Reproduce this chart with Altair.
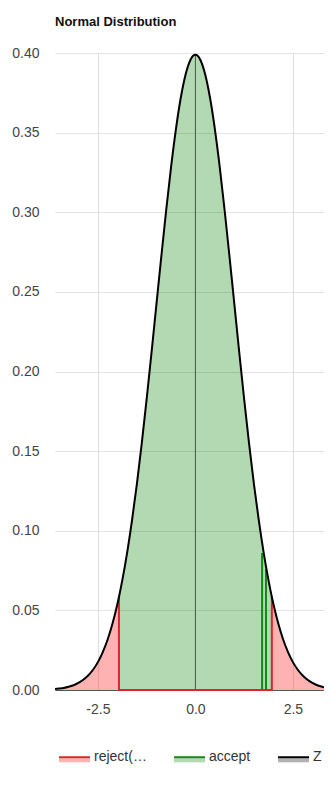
import altair as alt
import pandas as pd

# ---- data ----
names = ["reject(α=0.05)", "accept", "Z"]
half_x = [0.0, 0.125, 0.25, 0.375, 0.5, 0.625, 0.75, 0.875, 1.0, 1.125, 1.25, 1.375,
          1.5, 1.625, 1.75, 1.875, 2.0, 2.125, 2.25, 2.375, 2.5, 2.625, 2.75, 2.875,
          3.0, 3.125, 3.25, 3.375, 3.5, 3.625, 3.75]
half_y = [0.3989, 0.3958, 0.3867, 0.3719, 0.3521, 0.3282, 0.3011, 0.2720, 0.2420, 0.2119,
          0.1826, 0.1550, 0.1295, 0.1066, 0.0863, 0.0688, 0.0540, 0.0417, 0.0317, 0.0238,
          0.0175, 0.0127, 0.0091, 0.0064, 0.0044, 0.0030, 0.0020, 0.0013, 0.0009, 0.0006,
          0.0004]
crit = 1.96
crit_y = 0.0584
stat_x = [1.71, 1.81]
stat_top = [0.086, 0.076]
peak = 0.3989
x_ticks = [-2.5, 0.0, 2.5]
y_ticks = [i * 0.025 for i in range(17)]

# ---- tables ----
xs = [-v for v in half_x[:0:-1]] + half_x
ys = half_y[:0:-1] + half_y
pts = sorted(list(zip(xs, ys)) + [(-crit, crit_y), (crit, crit_y)])
curve = pd.DataFrame({"x": [p[0] for p in pts], "y": [p[1] for p in pts], "s": names[2]})

rows = []
for x, y in pts:
    if x <= -crit:
        rows.append((x, y, "left", names[0]))
    if -crit <= x <= crit:
        rows.append((x, y, "mid", names[1]))
    if x >= crit:
        rows.append((x, y, "right", names[0]))
areas = pd.DataFrame(rows, columns=["x", "y", "part", "f"])

outline = pd.DataFrame({"x": [-crit, -crit, crit, crit],
                        "y": [crit_y, 0, 0, crit_y],
                        "o": [0, 1, 2, 3]})
stats = pd.DataFrame({"x": stat_x, "y0": [0, 0], "y1": stat_top})
zero = pd.DataFrame({"x": [0.0], "y0": [0.0], "y1": [peak]})

FONT = "Liberation Sans"
W, H = 269, 637
# the reference is cut at its right edge: keep 39 px per unit, cut the domain at the page edge
xscale = alt.Scale(domain=[-3.6, -3.6 + W / 39.0], nice=False, zero=False)
yscale = alt.Scale(domain=[0, 0.4], nice=False)

xaxis = alt.Axis(values=x_ticks, title=None, ticks=False, domain=True, domainColor="#555",
                 grid=True, gridColor="#dedede", labelFontSize=14, labelColor="#444",
                 labelFont=FONT, labelPadding=12,
                 labelExpr="replace(format(datum.value, '.1f'), '\u2212', '-')")
yaxis = alt.Axis(values=y_ticks, title=None, ticks=False, domain=False, grid=True,
                 gridColor="#e3e3e3", labelFontSize=14, labelColor="#444", labelFont=FONT,
                 labelPadding=16,
                 labelExpr="round(datum.value*40) % 2 == 0 ? format(datum.value, '.2f') : ''")

LX, LY = 4, 688.5
SYM = 841  # sqrt = 29, plus stroke width 2 -> 31 px entry offset
common = dict(title=None, orient="none", legendX=LX, legendY=LY, direction="horizontal",
              symbolSize=SYM, symbolStrokeWidth=2, labelFontSize=14, labelFont=FONT,
              labelLimit=55, labelOffset=4, columnPadding=22)
fill_legend = alt.Legend(symbolType="M-1.069,0.07H1.069V0.35H-1.069Z",
                         symbolStrokeColor="transparent", labelColor="#333", **common)
stroke_legend = alt.Legend(symbolType="M-1.069,0H1.069", labelColor="transparent", **common)

area_layer = alt.Chart(areas).mark_area(interpolate="monotone", clip=True).encode(
    x=alt.X("x:Q", scale=xscale, axis=xaxis),
    y=alt.Y("y:Q", scale=yscale, axis=yaxis, stack=None),
    detail="part:N",
    fill=alt.Fill("f:N", scale=alt.Scale(domain=names,
                  range=["rgba(255,0,0,0.3)", "rgba(0,128,0,0.3)", "rgba(0,0,0,0.3)"]),
                  legend=fill_legend),
)

zero_layer = alt.Chart(zero).mark_rule(color="black", opacity=0.55, strokeWidth=1).encode(
    x="x:Q", y="y0:Q", y2="y1:Q")

stat_layer = alt.Chart(stats).mark_rule(color="#138a13", strokeWidth=2).encode(
    x="x:Q", y="y0:Q", y2="y1:Q")

outline_layer = alt.Chart(outline).mark_line(color="#dc2626", strokeWidth=2).encode(
    x="x:Q", y="y:Q", order="o:Q")

curve_layer = alt.Chart(curve).mark_line(interpolate="monotone", strokeWidth=2, clip=True).encode(
    x="x:Q", y="y:Q",
    stroke=alt.Stroke("s:N", scale=alt.Scale(domain=names, range=["#dc2626", "#138a13", "black"]),
                      legend=stroke_legend),
)

chart = alt.layer(area_layer, zero_layer, stat_layer, outline_layer, curve_layer).resolve_scale(
    fill="independent", stroke="independent"
).properties(
    width=W, height=H,
    autosize=alt.AutoSizeParams(type="none"),
    padding={"left": 47, "right": 0, "top": 45, "bottom": 80},
    title=alt.TitleParams("Normal Distribution", anchor="start", frame="group", fontSize=13,
                          fontWeight="bold", font=FONT, color="#111", offset=17),
).configure_view(stroke=None)

chart.save("out.html", embed_options={"renderer": "svg", "actions": False})
